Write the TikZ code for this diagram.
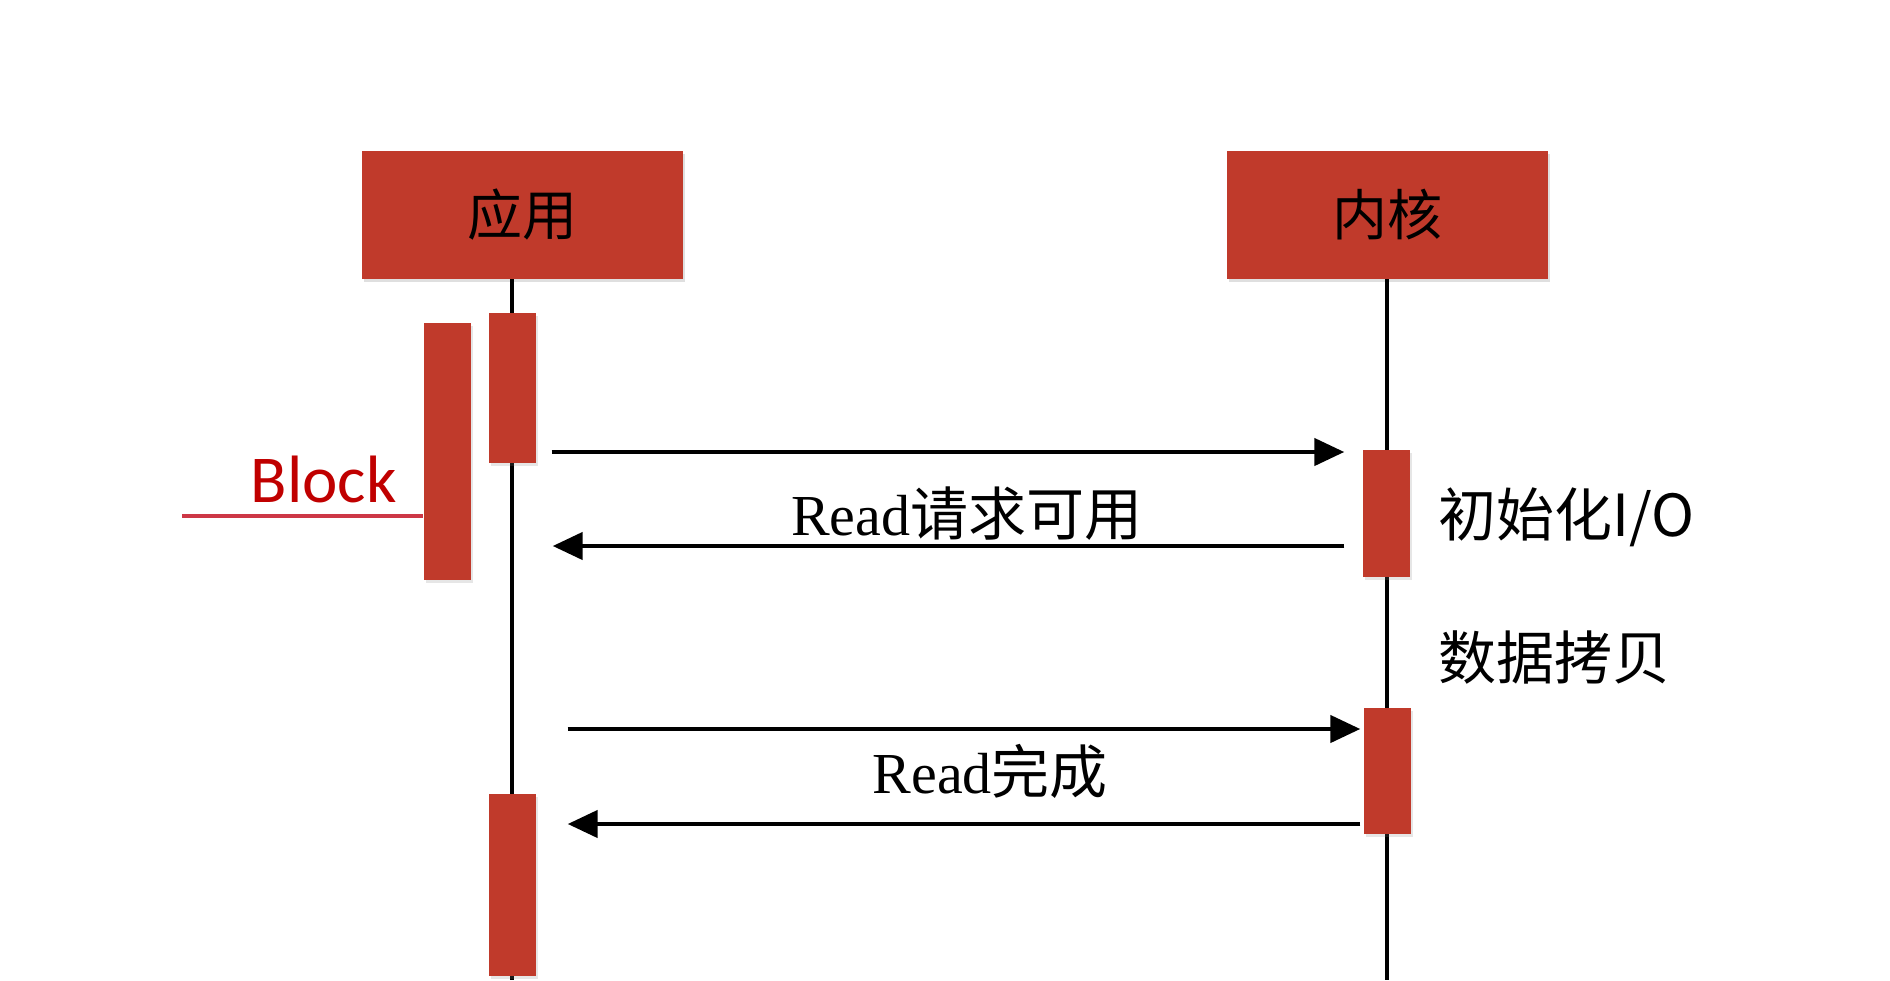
\documentclass[tikz,border=0pt]{standalone}
\usepackage{fontspec}
\setmainfont{Liberation Serif}
\newfontfamily\cjk{Noto Sans CJK SC}
\newfontfamily\blockfont{Carlito}
\usetikzlibrary{arrows.meta,shadows}

\definecolor{barred}{RGB}{192,58,43}
\definecolor{blockred}{RGB}{192,0,0}
\definecolor{blockline}{RGB}{205,55,70}

\tikzset{
  actor/.style={fill=barred, minimum width=321pt, minimum height=128pt, inner sep=0pt,
    drop shadow={shadow xshift=2pt, shadow yshift=-3pt, opacity=0.25},
    font=\cjk\fontsize{55}{60}\selectfont},
  bar/.style={fill=barred, minimum width=47pt, inner sep=0pt,
    drop shadow={shadow xshift=2pt, shadow yshift=-3pt, opacity=0.2}},
  lifeline/.style={line width=3.5pt},
  msg/.style={line width=4.5pt, -{Triangle[length=30pt,width=27pt]}},
  msglabel/.style={inner sep=0pt, anchor=base, font=\fontsize{58}{62}\selectfont},
  note/.style={inner sep=0pt, anchor=west, font=\cjk\fontsize{58}{62}\selectfont},
}

\begin{document}
\begin{tikzpicture}[x=1pt, y=-1pt]
    \useasboundingbox (0,0) rectangle (1890,980);

    \node[actor] (app) at (522,215) {应用};
    \node[actor] (kern) at (1387,215) {内核};

    % lifelines
    \coordinate (append) at (512,980);
    \coordinate (kernend) at (1387,980);
    \draw[lifeline] (app.south -| append) -- (append);
    \draw[lifeline] (kern.south) -- (kernend);

    % activation bars
    \node[bar, minimum height=150pt] (a1) at (512,388) {};
    \node[bar, minimum height=257pt] (blk) at (447,451) {};
    \node[bar, minimum height=127pt] (k1) at (1386,513) {};
    \node[bar, minimum height=126pt] (k2) at (1387,771) {};
    \node[bar, minimum height=182pt] (a2) at (512,885) {};

    % block marker
    \coordinate (blkstart) at (182,516);
    \draw[line width=3.5pt, blockline] (blkstart) -- (blkstart -| blk.west);
    \node[inner sep=0pt, anchor=base east, text=blockred, font=\blockfont\fontsize{67}{70}\selectfont] (blocktxt) at (397,502) {Block};

    % messages
    \coordinate (m1) at (0,452);
    \coordinate (m2) at (0,546);
    \coordinate (m3) at (0,729);
    \coordinate (m4) at (0,824);

    \draw[msg] ([xshift=16pt]a1.east |- m1) -- ([xshift=-18pt]k1.west |- m1);
    \draw[msg] ([xshift=-18pt]k1.west |- m2) -- node[msglabel, pos=0.477, yshift=11pt] (lbl1) {Read{\cjk 请求可用}} ([xshift=17pt]a1.east |- m2);

    \draw[msg] ([xshift=32pt]a2.east |- m3) -- ([xshift=-3pt]k2.west |- m3);
    \draw[msg] ([xshift=-3pt]k2.west |- m4) -- node[msglabel, pos=0.467, yshift=31pt] (lbl2) {Read{\cjk 完成}} ([xshift=32pt]a2.east |- m4);

    % kernel notes
    \node[note] (init) at (1438,517) {初始化I/O};
    \node[note] (copy) at (1438,658) {数据拷贝};
\end{tikzpicture}
\end{document}
